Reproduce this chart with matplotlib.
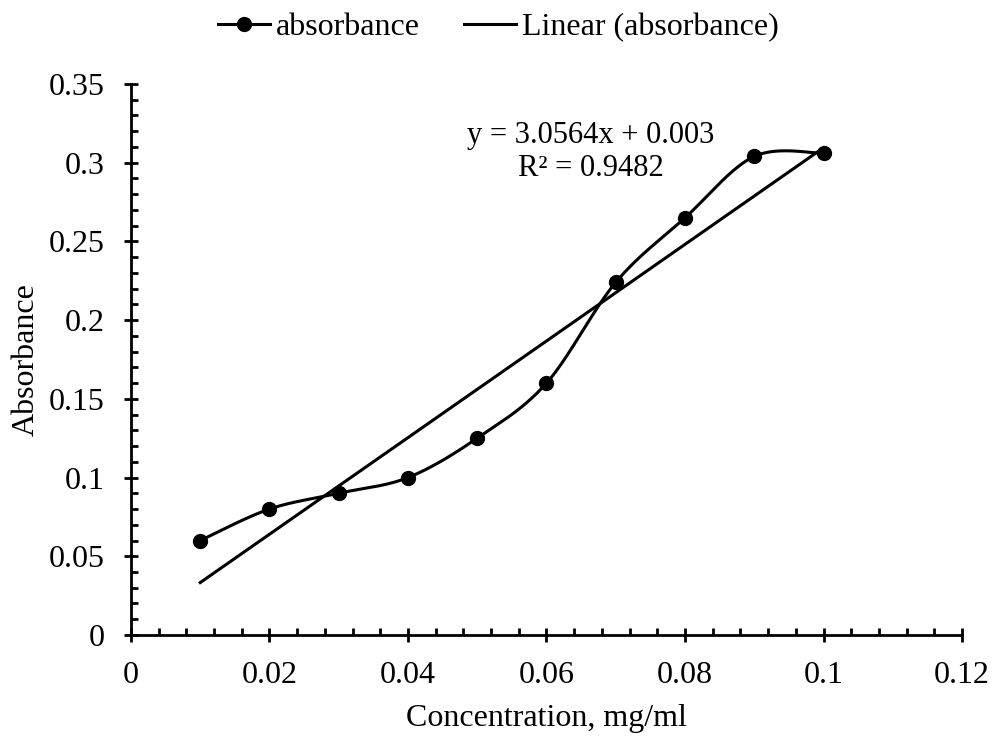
import numpy as np
import matplotlib
matplotlib.use('Agg')
import matplotlib.pyplot as plt
from matplotlib.ticker import MultipleLocator, FuncFormatter

plt.rcParams['font.family'] = ['Liberation Serif', 'DejaVu Serif']

conc = [0.01, 0.02, 0.03, 0.04, 0.05, 0.06, 0.07, 0.08, 0.09, 0.1]
absorbance = [0.06, 0.08, 0.09, 0.10, 0.125, 0.16, 0.224, 0.265, 0.304, 0.306]


def smooth(x, y, n=40):
    # Excel-like smoothed line (Catmull-Rom style bezier)
    x = np.asarray(x, float)
    y = np.asarray(y, float)
    px = np.concatenate([[x[0]], x, [x[-1]]])
    py = np.concatenate([[y[0]], y, [y[-1]]])
    xs, ys = [], []
    t = np.linspace(0, 1, n)
    for i in range(1, len(px) - 2):
        p0 = np.array([px[i], py[i]])
        p3 = np.array([px[i + 1], py[i + 1]])
        p1 = p0 + (np.array([px[i + 1], py[i + 1]]) - np.array([px[i - 1], py[i - 1]])) / 6
        p2 = p3 - (np.array([px[i + 2], py[i + 2]]) - np.array([px[i], py[i]])) / 6
        b = ((1 - t) ** 3)[:, None] * p0 + (3 * (1 - t) ** 2 * t)[:, None] * p1 \
            + (3 * (1 - t) * t ** 2)[:, None] * p2 + (t ** 3)[:, None] * p3
        xs.extend(b[:, 0])
        ys.extend(b[:, 1])
    return xs, ys


fs = 23

fig = plt.figure(figsize=(9.93, 7.38), dpi=100)
ax = fig.add_axes([0.1319, 0.1396, 0.8369, 0.7466])

sx, sy = smooth(conc, absorbance)
ax.plot(sx, sy, color='black', lw=2.2, zorder=3)
ax.plot(conc, absorbance, 'o', color='black', ms=10, zorder=4)

slope, icpt = np.polyfit(conc, absorbance, 1)
fx = np.array([conc[0], conc[-1]])
ax.plot(fx, slope * fx + icpt, color='black', lw=2.2, zorder=2)

# legend handles
h1, = ax.plot([], [], '-o', color='black', lw=2.2, ms=10, label='absorbance')
h2, = ax.plot([], [], '-', color='black', lw=2.2, label='Linear (absorbance)')
fig.legend(handles=[h1, h2], loc='upper center', bbox_to_anchor=(0.502, 1.022),
           ncol=2, frameon=False, fontsize=fs, handlelength=1.63, handletextpad=0.19,
           columnspacing=1.38)

ax.text(0.0664, 0.317, 'y = 3.0564x + 0.003', ha='center', va='center', fontsize=22)
ax.text(0.0664, 0.2965, 'R² = 0.9482', ha='center', va='center', fontsize=22)

ax.set_xlim(0, 0.12)
ax.set_ylim(0, 0.35)
ax.xaxis.set_major_locator(MultipleLocator(0.02))
ax.xaxis.set_minor_locator(MultipleLocator(0.004))
ax.yaxis.set_major_locator(MultipleLocator(0.05))
ax.yaxis.set_minor_locator(MultipleLocator(0.01))
fmt = FuncFormatter(lambda v, p: ('%g' % round(v, 4)))
ax.xaxis.set_major_formatter(fmt)
ax.yaxis.set_major_formatter(fmt)

for s in ['top', 'right']:
    ax.spines[s].set_visible(False)
for s in ['left', 'bottom']:
    ax.spines[s].set_linewidth(2)
ax.tick_params(which='major', direction='inout', length=10, width=2, labelsize=fs)
ax.tick_params(axis='y', which='major', pad=14)
ax.tick_params(axis='x', which='major', pad=14)
ax.tick_params(which='minor', direction='in', length=5, width=2)

ax.set_xlabel('Concentration, mg/ml', fontsize=fs, labelpad=10)
ax.set_ylabel('Absorbance', fontsize=fs, labelpad=6)

fig.savefig('out.png', dpi=100)
